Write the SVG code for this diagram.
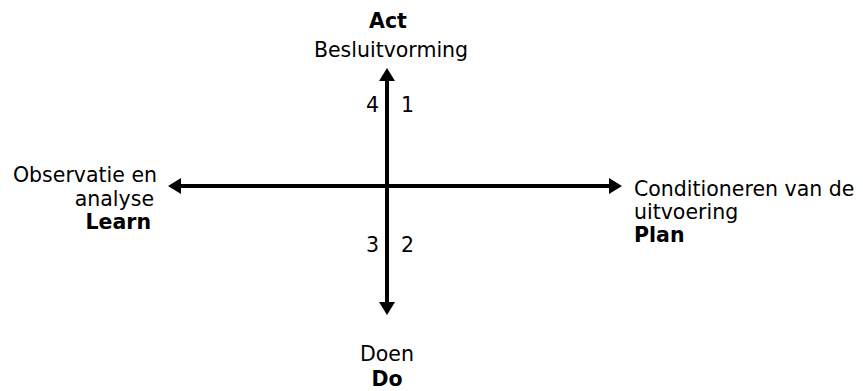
<svg xmlns="http://www.w3.org/2000/svg" width="863" height="391" viewBox="0 0 863 391">
<defs>
<marker id="ah" markerUnits="userSpaceOnUse" markerWidth="13" markerHeight="16" refX="1" refY="8" orient="auto-start-reverse" viewBox="0 0 13 16">
<path d="M0,0 L13,8 L0,16 Z" fill="#000"/>
</marker>
</defs>
<style>
text{font-family:"DejaVu Sans","Verdana",sans-serif;font-size:20.5px;fill:#000}
.b{font-weight:bold}
.m{text-anchor:middle}
.e{text-anchor:end}
.axis{stroke:#000;stroke-width:4;fill:none;marker-start:url(#ah);marker-end:url(#ah)}
</style>
<rect width="863" height="391" fill="#fff"/>
<g id="connectors">
<line class="axis" x1="387" y1="80" x2="387" y2="303"/>
<line class="axis" x1="180" y1="186" x2="610" y2="186"/>
</g>
<g id="act">
<text class="b m" x="388" y="28">Act</text>
<text class="m" x="391" y="57">Besluitvorming</text>
</g>
<g id="learn">
<text class="e" x="157" y="182">Observatie en</text>
<text class="e" x="154" y="206">analyse</text>
<text class="b e" x="151" y="229">Learn</text>
</g>
<g id="plan">
<text x="634" y="196">Conditioneren van de</text>
<text x="634" y="219">uitvoering</text>
<text class="b" x="634" y="242">Plan</text>
</g>
<g id="do">
<text class="m" x="387" y="361">Doen</text>
<text class="b m" x="387" y="386">Do</text>
</g>
<g id="quadrants">
<text class="e" x="379" y="112">4</text>
<text x="401" y="112">1</text>
<text class="e" x="379" y="252">3</text>
<text x="401" y="252">2</text>
</g>
</svg>
